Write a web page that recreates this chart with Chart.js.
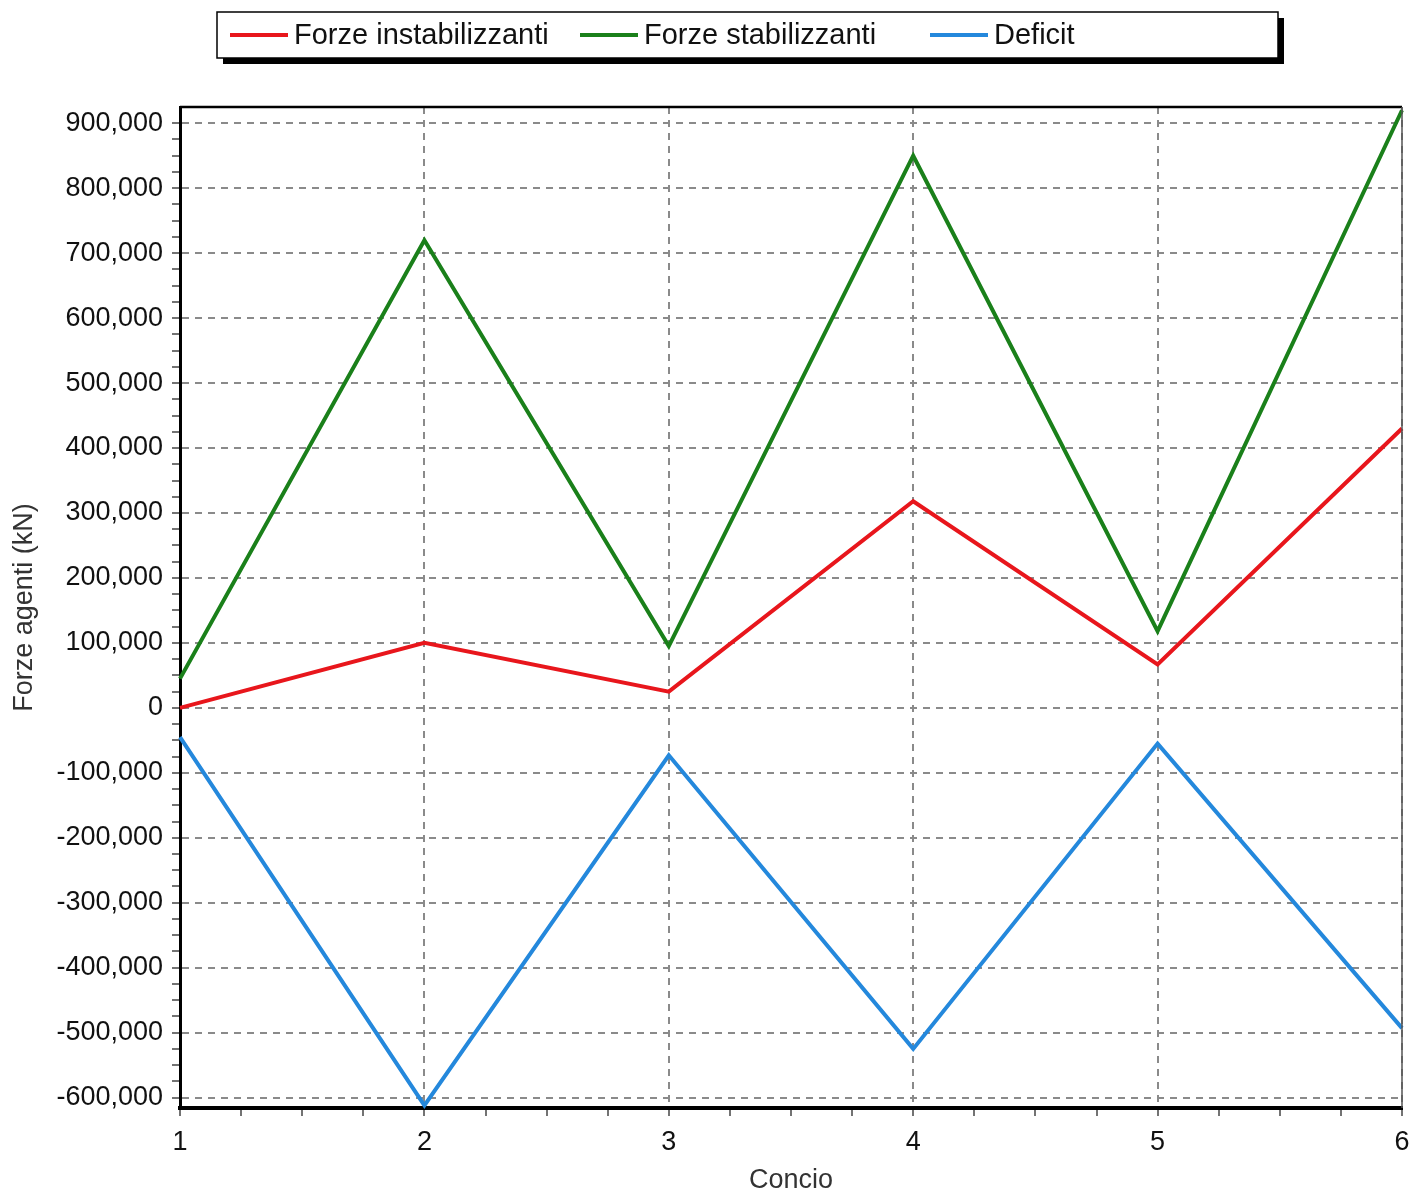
<!DOCTYPE html>
<html>
<head>
<meta charset="utf-8">
<script src="https://cdn.jsdelivr.net/npm/chart.js@4"></script>
<style>
  html, body { margin: 0; padding: 0; background: #fff; }
  #wrap { width: 1423px; height: 1191px; }
</style>
</head>
<body>
<div id="wrap"><canvas id="grafico" width="1423" height="1191"></canvas></div>
<script>
// dati
const conci = [1, 2, 3, 4, 5, 6];
const forzeInstab = [0, 100000, 25000, 318000, 67000, 430000];
const forzeStab = [45000, 720000, 95000, 850000, 118000, 920000];
const deficit = [-45000, -612000, -73000, -525000, -55000, -493000];
const yTicks = [-600000, -500000, -400000, -300000, -200000, -100000, 0, 100000, 200000, 300000, 400000, 500000, 600000, 700000, 800000, 900000];

const FONT = "'Liberation Sans', Arial, sans-serif";

function punti(vals) {
  return conci.map((c, i) => ({ x: c, y: vals[i] }));
}

// legenda disegnata a mano dentro un riquadro con ombra
const legendaBox = {
  id: 'legendaBox',
  afterDraw(chart) {
    const ctx = chart.ctx;
    const x = 217, y = 12, w = 1061, h = 46;
    ctx.save();
    ctx.fillStyle = '#000';
    ctx.fillRect(x + 6, y + 6, w, h);
    ctx.fillStyle = '#fff';
    ctx.fillRect(x, y, w, h);
    ctx.strokeStyle = '#000';
    ctx.lineWidth = 1.5;
    ctx.strokeRect(x, y, w, h);
    const starts = [230, 580, 930];
    ctx.font = '29px ' + FONT;
    ctx.textBaseline = 'middle';
    chart.data.datasets.forEach((ds, i) => {
      const sx = starts[i];
      ctx.strokeStyle = ds.borderColor;
      ctx.lineWidth = 4;
      ctx.beginPath();
      ctx.moveTo(sx, y + h / 2);
      ctx.lineTo(sx + 58, y + h / 2);
      ctx.stroke();
      ctx.fillStyle = '#111';
      ctx.fillText(ds.label, sx + 64, y + h / 2 + 1);
    });
    // bordo superiore e destro dell'area
    const a = chart.chartArea;
    ctx.strokeStyle = '#000';
    ctx.lineWidth = 2.5;
    ctx.beginPath();
    ctx.moveTo(a.left, a.top);
    ctx.lineTo(a.right, a.top);
    ctx.stroke();
    ctx.strokeStyle = '#555';
    ctx.lineWidth = 1.5;
    ctx.beginPath();
    ctx.moveTo(a.right, a.top);
    ctx.lineTo(a.right, a.bottom);
    ctx.stroke();
    ctx.restore();
  }
};

new Chart(document.getElementById('grafico'), {
  type: 'line',
  data: {
    datasets: [
      { label: 'Forze instabilizzanti', data: punti(forzeInstab), borderColor: '#e8161c' },
      { label: 'Forze stabilizzanti', data: punti(forzeStab), borderColor: '#1a801a' },
      { label: 'Deficit', data: punti(deficit), borderColor: '#2488dc' }
    ]
  },
  options: {
    responsive: false,
    animation: false,
    clip: false,
    elements: {
      line: { borderWidth: 4, tension: 0 },
      point: { radius: 0 }
    },
    layout: { padding: { top: 107, right: 21, left: 0, bottom: 0 } },
    plugins: {
      legend: { display: false },
      tooltip: { enabled: false }
    },
    scales: {
      x: {
        type: 'linear',
        min: 1,
        max: 6,
        afterBuildTicks(scale) {
          const t = [];
          for (let v = conci[0]; v <= conci[conci.length - 1] + 1e-9; v += 0.25) t.push({ value: v });
          scale.ticks = t;
        },
        afterFit(scale) { scale.height = 83; },
        ticks: {
          autoSkip: false,
          maxRotation: 0,
          padding: 10,
          color: '#111',
          font: { family: FONT, size: 27 },
          callback: (v) => Number.isInteger(v) ? String(v) : ''
        },
        grid: {
          color: (c) => c.tick && Number.isInteger(c.tick.value) ? '#8a8a8a' : 'rgba(0,0,0,0)',
          lineWidth: 2,
          tickLength: 8,
          tickColor: '#444',
          tickWidth: 1.5
        },
        border: { display: true, color: '#000', width: 4, dash: [7, 6] },
        title: {
          display: true,
          text: 'Concio',
          color: '#333',
          font: { family: FONT, size: 27, lineHeight: 1 },
          padding: { top: 0, bottom: -3 }
        }
      },
      y: {
        min: -616000,
        max: 925000,
        afterBuildTicks(scale) {
          const t = [];
          for (let v = yTicks[0]; v <= yTicks[yTicks.length - 1]; v += 25000) t.push({ value: v });
          scale.ticks = t;
        },
        afterFit(scale) { scale.width = 180; },
        ticks: {
          autoSkip: false,
          padding: 9,
          color: '#111',
          font: { family: FONT, size: 27 },
          callback: (v) => yTicks.includes(v) ? v.toLocaleString('en-US') : ''
        },
        grid: {
          color: (c) => c.tick && yTicks.includes(c.tick.value) ? '#8a8a8a' : 'rgba(0,0,0,0)',
          lineWidth: 2,
          tickLength: 8,
          tickColor: '#444',
          tickWidth: 1.5
        },
        border: { display: true, color: '#000', width: 3, dash: [7, 6] },
        title: {
          display: true,
          text: 'Forze agenti (kN)',
          color: '#333',
          font: { family: FONT, size: 27, lineHeight: 1 },
          padding: { top: 11, bottom: 0 }
        }
      }
    }
  },
  plugins: [legendaBox]
});
</script>
</body>
</html>
